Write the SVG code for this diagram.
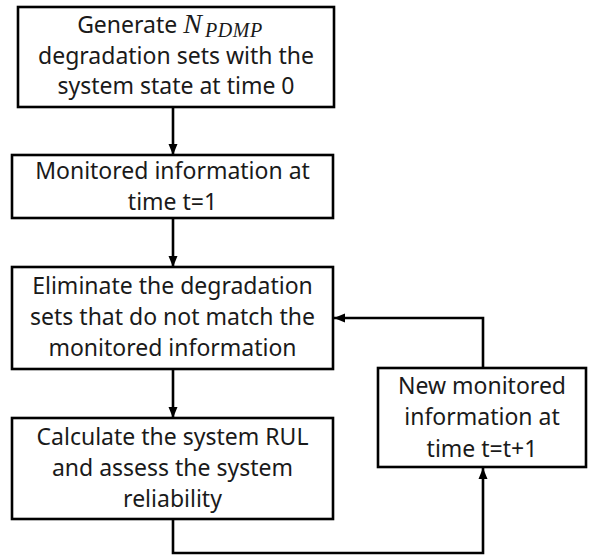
<svg xmlns="http://www.w3.org/2000/svg" width="595" height="556" viewBox="0 0 595 556">
<style>
.box{fill:#fff;stroke:#000;stroke-width:2.6}
.t{font-family:"Noto Sans","Open Sans",sans-serif;font-size:23px;fill:#1a1a1a;text-anchor:middle}
.m{font-family:"Liberation Serif",serif;font-style:italic}
.c{fill:none;stroke:#000;stroke-width:2.6}
</style>
<defs>
<marker id="ah" markerUnits="userSpaceOnUse" markerWidth="12" markerHeight="12" viewBox="0 0 12 12" refX="11" refY="6" orient="auto">
<path d="M0,1.5 L11,6 L0,10.5 Z" fill="#000"/>
</marker>
</defs>
<rect width="595" height="556" fill="#fff"/>
<g id="connectors">
<path class="c" d="M173,107 V155" marker-end="url(#ah)"/>
<path class="c" d="M173,218 V267" marker-end="url(#ah)"/>
<path class="c" d="M173,369 V418" marker-end="url(#ah)"/>
<path class="c" d="M173,519 V553 H483 V468" marker-end="url(#ah)"/>
<path class="c" d="M483,368 V318 H334" marker-end="url(#ah)"/>
</g>
<g id="n1">
<rect class="box" x="18" y="7" width="316" height="100"/>
<text class="t" x="170" y="33">Generate <tspan class="m" font-size="28">N</tspan><tspan class="m" font-size="20" dx="3" dy="4" letter-spacing="0.6">PDMP</tspan></text>
<text class="t" x="176" y="64">degradation sets with the</text>
<text class="t" x="176" y="94">system state at time 0</text>
</g>
<g id="n2">
<rect class="box" x="12" y="155" width="321" height="63"/>
<text class="t" x="172.5" y="179">Monitored information at</text>
<text class="t" x="172.5" y="210">time t=1</text>
</g>
<g id="n3">
<rect class="box" x="12" y="267" width="321" height="102"/>
<text class="t" x="172.5" y="294">Eliminate the degradation</text>
<text class="t" x="172.5" y="325">sets that do not match the</text>
<text class="t" x="172.5" y="356">monitored information</text>
</g>
<g id="n4">
<rect class="box" x="378" y="368" width="208" height="99"/>
<text class="t" x="482" y="394">New monitored</text>
<text class="t" x="482" y="425">information at</text>
<text class="t" x="482" y="457">time t=t+1</text>
</g>
<g id="n5">
<rect class="box" x="12" y="418" width="321" height="101"/>
<text class="t" x="172.5" y="445">Calculate the system RUL</text>
<text class="t" x="172.5" y="476">and assess the system</text>
<text class="t" x="172.5" y="507">reliability</text>
</g>
</svg>
